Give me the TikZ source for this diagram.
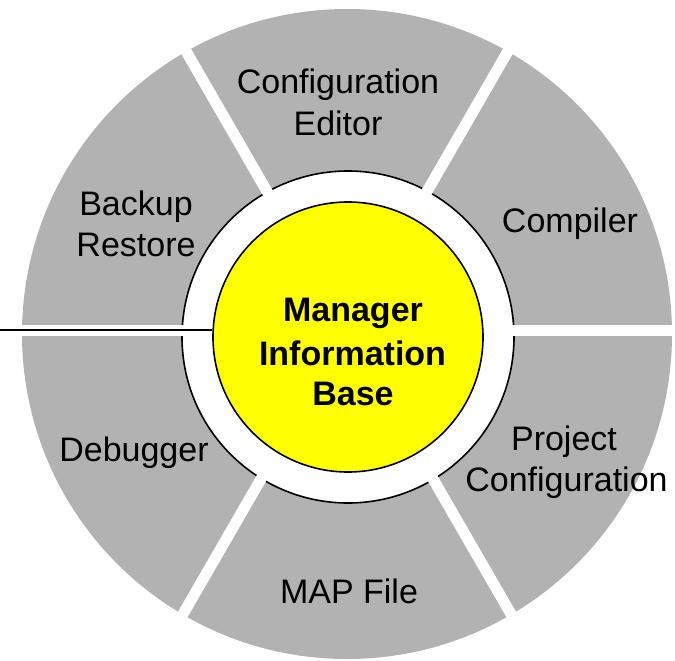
\documentclass[tikz,border=0pt]{standalone}
\usepackage{fontspec}
\setmainfont{Liberation Sans}
\definecolor{sectgray}{HTML}{B2B2B2}
\definecolor{mibyellow}{HTML}{FFFF00}
\tikzset{
  lbl/.style={anchor=base, inner sep=0pt, font=\fontsize{34}{42}\selectfont, text=black},
  lblb/.style={lbl, font=\fontsize{34}{42}\selectfont\bfseries},
  gapline/.style={white, line width=11pt},
}
\begin{document}
\begin{tikzpicture}[x=1pt,y=-1pt]
\useasboundingbox (0,0) rectangle (675,661);
% outer gray disk (six sectors)
\fill[sectgray] (347,334) circle (325pt);
% inner white ring with black border
\filldraw[fill=white, draw=black, line width=1.6pt] (348,337) circle (166pt);
% white gaps between sectors
\coordinate (gc) at (347,330);
\foreach \a in {0,60,120,180,240,300}
  \draw[gapline] (gc) -- ++(\a:345);
% central circle
\node[circle, draw=black, line width=1.6pt, fill=mibyellow, minimum size=270pt, inner sep=0pt] (mib) at (348,337) {};
\node[lblb] (mib1) at (353,321.7) {Manager};
\node[lblb] (mib2) at (352.5,365) {Information};
\node[lblb] (mib3) at (353,405) {Base};
% connector from left
\coordinate (lstart) at (0,330);
\draw[black, line width=2pt] (lstart) -- (lstart -| mib.west);
% sector labels
\node[lbl] (ce1) at (338,93) {Configuration};
\node[lbl] (ce2) at (338,135) {Editor};
\node[lbl] (comp) at (570,232.7) {Compiler};
\node[lbl] (br1) at (136,215) {Backup};
\node[lbl] (br2) at (136,256.7) {Restore};
\node[lbl] (dbg) at (134,461.7) {Debugger};
\node[lbl] (pc1) at (564,450) {Project};
\node[lbl] (pc2) at (566.5,491.7) {Configuration};
\node[lbl] (map) at (349,603) {MAP File};
\end{tikzpicture}
\end{document}
